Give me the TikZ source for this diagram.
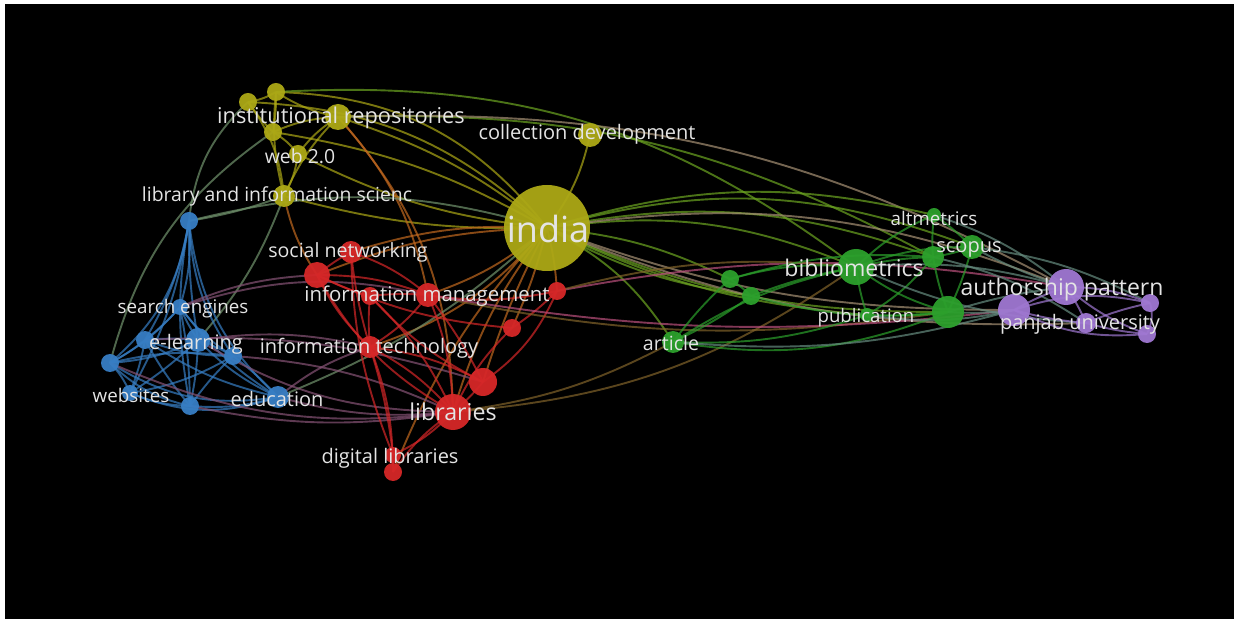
\documentclass[tikz,border=0pt]{standalone}
\usepackage{fontspec}
\setmainfont{Open Sans}
\usetikzlibrary{backgrounds}

\definecolor{ycol}{RGB}{172,168,22}
\definecolor{rcol}{RGB}{214,39,40}
\definecolor{bcol}{RGB}{55,126,196}
\definecolor{gcol}{RGB}{44,160,44}
\definecolor{pcol}{RGB}{160,120,210}
\definecolor{labcol}{RGB}{228,228,228}

\tikzset{
  kw/.style={circle, inner sep=0pt, minimum size=#1 pt, fill opacity=0.95},
  ykw/.style={kw=#1, fill=ycol},
  rkw/.style={kw=#1, fill=rcol},
  bkw/.style={kw=#1, fill=bcol},
  gkw/.style={kw=#1, fill=gcol},
  pkw/.style={kw=#1, fill=pcol},
  lbl/.style={text=labcol, inner sep=0pt, yshift=-0.8pt, font=\fontsize{#1}{#1}\selectfont},
  link/.style={line width=0.95pt, draw opacity=0.7},
}

\begin{document}
\begin{tikzpicture}[x=0.5pt, y=-0.5pt]
            \useasboundingbox (0,0) rectangle (1234,619);
            \begin{scope}[on background layer]
            \fill[white] (0,0) rectangle (1234,619);
            \fill[black] (5,4) rectangle (1234,619);
            \end{scope}

            % Marking yellow keywords
            \node [ykw=43] (india) at (547,228) {};%
            \node [ykw=12] (coll) at (590,135) {};%
            \node [ykw=13] (instrep) at (338,117) {};%
            \node [ykw=9] (y1) at (276,92) {};%
            \node [ykw=9] (y2) at (248,102) {};%
            \node [ykw=9] (y3) at (273,132) {};%
            \node [ykw=9] (web) at (298,154) {};%
            \node [ykw=11] (lisy) at (284,196) {};%

            % Marking blue keywords
            \node [bkw=9] (lisb) at (189,221) {};%
            \node [bkw=8] (search) at (180,307) {};%
            \node [bkw=9] (el1) at (145,340) {};%
            \node [bkw=12] (el2) at (198,340) {};%
            \node [bkw=9] (b3) at (233,356) {};%
            \node [bkw=9] (b4) at (110,363) {};%
            \node [bkw=8] (websites) at (130,393) {};%
            \node [bkw=9] (b5) at (190,406) {};%
            \node [bkw=11] (educ) at (278,397) {};%

            % Marking red keywords
            \node [rkw=13] (sn1) at (317,275) {};%
            \node [rkw=11] (sn2) at (351,252) {};%
            \node [rkw=9] (im2) at (370,296) {};%
            \node [rkw=12] (im) at (428,295) {};%
            \node [rkw=9] (r557) at (557,291) {};%
            \node [rkw=9] (r512) at (512,328) {};%
            \node [rkw=11] (it) at (370,347) {};%
            \node [rkw=14] (r482) at (483,382) {};%
            \node [rkw=18] (lib) at (453,412) {};%
            \node [rkw=8] (dl1) at (393,455) {};%
            \node [rkw=9] (dl2) at (393,472) {};%

            % Marking green keywords
            \node [gkw=11] (article) at (673,342) {};%
            \node [gkw=9] (g1) at (730,279) {};%
            \node [gkw=9] (g2) at (751,296) {};%
            \node [gkw=18] (biblio) at (856,267) {};%
            \node [gkw=7] (altm) at (934,215) {};%
            \node [gkw=11] (scop1) at (933,257) {};%
            \node [gkw=12] (scop2) at (972,247) {};%
            \node [gkw=7] (pub) at (867,315) {};%
            \node [gkw=16] (g3) at (948,312) {};%

            % Marking purple keywords
            \node [pkw=18] (auth) at (1066,287) {};%
            \node [pkw=16] (p1) at (1014,310) {};%
            \node [pkw=10] (panjab) at (1086,323) {};%
            \node [pkw=9] (p2) at (1150,303) {};%
            \node [pkw=9] (p3) at (1147,334) {};%

            \begin{scope}[on background layer]
            % Drawing yellow links
            \draw [link, ycol] (y1.center) to[bend left=10] (y2.center);%
            \draw [link, ycol] (y1.center) to[bend right=10] (instrep.center);%
            \draw [link, ycol] (y1.center) to[bend left=5] (y3.center);%
            \draw [link, ycol] (y2.center) to[bend right=5] (y3.center);%
            \draw [link, ycol] (y3.center) to[bend left=10] (instrep.center);%
            \draw [link, ycol] (y3.center) to[bend left=10] (web.center);%
            \draw [link, ycol] (web.center) to[bend left=10] (lisy.center);%
            \draw [link, ycol] (y2.center) to[bend left=15] (lisy.center);%
            \draw [link, ycol] (y1.center) to[bend right=10] (lisy.center);%
            \draw [link, ycol] (instrep.center) to[bend right=10] (lisy.center);%
            \draw [link, ycol] (web.center) to[bend left=10] (instrep.center);%
            \draw [link, ycol] (y1.center) to[bend left=25] (india.center);%
            \draw [link, ycol] (y2.center) to[bend left=20] (india.center);%
            \draw [link, ycol] (y3.center) to[bend left=10] (india.center);%
            \draw [link, ycol] (instrep.center) to[bend left=10] (india.center);%
            \draw [link, ycol] (web.center) to[bend right=10] (india.center);%
            \draw [link, ycol] (lisy.center) to[bend right=8] (india.center);%
            \draw [link, ycol] (coll.center) to[bend left=12] (india.center);%
            \draw [link, ycol!50!gcol] (y1.center) to[bend left=20] (biblio.center);%
            \draw [link, ycol!50!gcol] (instrep.center) to[bend left=15] (scop1.center);%
            \draw [link, ycol!50!pcol] (instrep.center) to[bend left=15] (auth.center);%
            \draw [link, ycol!50!rcol] (lisy.center) to[bend right=10] (sn1.center);%
            \draw [link, ycol!50!rcol] (instrep.center) to[bend left=15] (im.center);%
            \draw [link, ycol!50!rcol] (instrep.center) to[bend left=20] (lib.center);%
            \draw [link, ycol!50!bcol] (y2.center) to[bend right=20] (lisb.center);%
            \draw [link, ycol!50!bcol] (lisy.center) to[bend left=5] (lisb.center);%
            \draw [link, ycol!50!bcol] (lisy.center) to[bend left=10] (el2.center);%
            \draw [link, ycol!50!bcol] (y3.center) to[bend right=20] (b4.center);%

            % Drawing links of india
            \draw [link, ycol!50!rcol] (india.center) to[bend right=10] (lib.center);%
            \draw [link, ycol!50!rcol] (india.center) to[bend right=5] (r482.center);%
            \draw [link, ycol!50!rcol] (india.center) to[bend left=5] (r512.center);%
            \draw [link, ycol!50!rcol] (india.center) to[bend left=5] (r557.center);%
            \draw [link, ycol!50!rcol] (india.center) to[bend left=10] (im.center);%
            \draw [link, ycol!50!rcol] (india.center) to[bend right=10] (sn1.center);%
            \draw [link, ycol!50!rcol] (india.center) to[bend left=15] (it.center);%
            \draw [link, ycol!50!rcol] (india.center) to[bend right=10] (sn2.center);%
            \draw [link, ycol!50!rcol] (india.center) to[bend right=10] (dl2.center);%
            \draw [link, ycol!50!bcol] (india.center) to[bend right=15] (lisb.center);%
            \draw [link, ycol!50!bcol] (india.center) to[bend left=10] (educ.center);%
            \draw [link, ycol!50!gcol] (india.center) to[bend left=15] (biblio.center);%
            \draw [link, ycol!50!gcol] (india.center) to[bend left=15] (scop1.center);%
            \draw [link, ycol!50!gcol] (india.center) to[bend left=15] (altm.center);%
            \draw [link, ycol!50!gcol] (india.center) to[bend left=18] (scop2.center);%
            \draw [link, ycol!50!gcol] (india.center) to[bend right=12] (g3.center);%
            \draw [link, ycol!50!gcol] (india.center) to[bend right=10] (pub.center);%
            \draw [link, ycol!50!gcol] (india.center) to[bend left=15] (article.center);%
            \draw [link, ycol!50!gcol] (india.center) to[bend left=10] (g1.center);%
            \draw [link, ycol!50!gcol] (india.center) to[bend right=10] (g2.center);%
            \draw [link, ycol!50!pcol] (india.center) to[bend left=15] (auth.center);%
            \draw [link, ycol!50!pcol] (india.center) to[bend right=10] (p1.center);%
            \draw [link, ycol!50!pcol] (india.center) to[bend right=12] (panjab.center);%

            % Drawing blue links
            \draw [link, bcol] (lisb.center) to[bend left=10] (search.center);%
            \draw [link, bcol] (lisb.center) to[bend left=10] (el1.center);%
            \draw [link, bcol] (lisb.center) to[bend right=5] (el2.center);%
            \draw [link, bcol] (lisb.center) to[bend left=20] (b4.center);%
            \draw [link, bcol] (lisb.center) to[bend left=10] (websites.center);%
            \draw [link, bcol] (lisb.center) to[bend right=10] (b5.center);%
            \draw [link, bcol] (lisb.center) to[bend right=20] (educ.center);%
            \draw [link, bcol] (lisb.center) to[bend right=15] (b3.center);%
            \draw [link, bcol] (search.center) to[bend left=5] (el1.center);%
            \draw [link, bcol] (search.center) to[bend right=5] (el2.center);%
            \draw [link, bcol] (search.center) to[bend right=10] (b3.center);%
            \draw [link, bcol] (search.center) to[bend left=10] (b4.center);%
            \draw [link, bcol] (search.center) to[bend left=5] (b5.center);%
            \draw [link, bcol] (search.center) to[bend right=10] (educ.center);%
            \draw [link, bcol] (el1.center) to[bend left=5] (el2.center);%
            \draw [link, bcol] (el1.center) to[bend left=5] (b4.center);%
            \draw [link, bcol] (el1.center) to[bend left=5] (websites.center);%
            \draw [link, bcol] (el1.center) to[bend right=5] (b5.center);%
            \draw [link, bcol] (el1.center) to[bend right=10] (b3.center);%
            \draw [link, bcol] (el1.center) to[bend right=10] (educ.center);%
            \draw [link, bcol] (el2.center) to[bend left=10] (b4.center);%
            \draw [link, bcol] (el2.center) to[bend left=5] (b5.center);%
            \draw [link, bcol] (el2.center) to[bend right=10] (educ.center);%
            \draw [link, bcol] (el2.center) to[bend left=5] (b3.center);%
            \draw [link, bcol] (el2.center) to[bend left=5] (websites.center);%
            \draw [link, bcol] (b3.center) to[bend right=10] (b4.center);%
            \draw [link, bcol] (b3.center) to[bend left=10] (websites.center);%
            \draw [link, bcol] (b3.center) to[bend right=5] (b5.center);%
            \draw [link, bcol] (b3.center) to[bend left=5] (educ.center);%
            \draw [link, bcol] (b4.center) to[bend left=10] (websites.center);%
            \draw [link, bcol] (b4.center) to[bend right=15] (b5.center);%
            \draw [link, bcol] (b4.center) to[bend right=20] (educ.center);%
            \draw [link, bcol] (websites.center) to[bend right=10] (b5.center);%
            \draw [link, bcol] (websites.center) to[bend right=20] (educ.center);%
            \draw [link, bcol] (b5.center) to[bend right=10] (educ.center);%
            \draw [link, bcol!50!rcol] (el2.center) to[bend left=10] (it.center);%
            \draw [link, bcol!50!rcol] (el2.center) to[bend right=15] (lib.center);%
            \draw [link, bcol!50!rcol] (educ.center) to[bend right=10] (lib.center);%
            \draw [link, bcol!50!rcol] (b3.center) to[bend left=10] (lib.center);%
            \draw [link, bcol!50!rcol] (educ.center) to[bend left=10] (it.center);%
            \draw [link, bcol!50!rcol] (search.center) to[bend left=15] (im.center);%
            \draw [link, bcol!50!rcol] (b4.center) to[bend right=15] (lib.center);%
            \draw [link, bcol!50!rcol] (search.center) to[bend left=10] (sn1.center);%
            \draw [link, bcol!50!rcol] (el1.center) to[bend left=10] (r482.center);%
            \draw [link, bcol!50!rcol] (b5.center) to[bend right=10] (lib.center);%

            % Drawing red links
            \draw [link, rcol] (sn1.center) to[bend left=5] (sn2.center);%
            \draw [link, rcol] (sn1.center) to[bend right=5] (im2.center);%
            \draw [link, rcol] (sn1.center) to[bend left=10] (im.center);%
            \draw [link, rcol] (sn1.center) to[bend right=10] (it.center);%
            \draw [link, rcol] (sn1.center) to[bend right=15] (lib.center);%
            \draw [link, rcol] (sn2.center) to[bend left=10] (im.center);%
            \draw [link, rcol] (sn2.center) to[bend right=5] (it.center);%
            \draw [link, rcol] (sn2.center) to[bend right=10] (dl1.center);%
            \draw [link, rcol] (im2.center) to[bend right=5] (it.center);%
            \draw [link, rcol] (im2.center) to[bend left=5] (im.center);%
            \draw [link, rcol] (im2.center) to[bend left=10] (lib.center);%
            \draw [link, rcol] (im.center) to[bend left=10] (it.center);%
            \draw [link, rcol] (im.center) to[bend left=10] (lib.center);%
            \draw [link, rcol] (im.center) to[bend left=5] (r482.center);%
            \draw [link, rcol] (it.center) to[bend left=10] (lib.center);%
            \draw [link, rcol] (it.center) to[bend left=10] (r482.center);%
            \draw [link, rcol] (it.center) to[bend left=5] (dl1.center);%
            \draw [link, rcol] (lib.center) to[bend right=5] (r482.center);%
            \draw [link, rcol] (lib.center) to[bend left=10] (r512.center);%
            \draw [link, rcol] (r512.center) to[bend right=5] (r557.center);%
            \draw [link, rcol] (r482.center) to[bend right=15] (r557.center);%
            \draw [link, rcol] (r557.center) to[bend left=10] (im.center);%
            \draw [link, rcol] (dl1.center) to[bend right=10] (lib.center);%
            \draw [link, rcol] (dl2.center) to[bend left=10] (lib.center);%
            \draw [link, rcol] (dl2.center) to[bend right=10] (it.center);%
            \draw [link, rcol] (sn1.center) to[bend right=10] (r512.center);%
            \draw [link, rcol] (im2.center) to[bend right=10] (r482.center);%
            \draw [link, rcol!50!pcol] (r557.center) to[bend left=10] (auth.center);%
            \draw [link, rcol!50!gcol] (r557.center) to[bend left=10] (biblio.center);%
            \draw [link, rcol!50!gcol] (lib.center) to[bend right=10] (article.center);%
            \draw [link, rcol!50!gcol] (lib.center) to[bend right=15] (biblio.center);%
            \draw [link, rcol!50!gcol] (im.center) to[bend right=10] (g3.center);%
            \draw [link, rcol!50!pcol] (im.center) to[bend right=8] (p1.center);%

            % Drawing green links
            \draw [link, gcol] (article.center) to[bend left=5] (g1.center);%
            \draw [link, gcol] (article.center) to[bend right=5] (g2.center);%
            \draw [link, gcol] (article.center) to[bend left=10] (biblio.center);%
            \draw [link, gcol] (article.center) to[bend right=15] (g3.center);%
            \draw [link, gcol] (article.center) to[bend right=10] (pub.center);%
            \draw [link, gcol] (g1.center) to[bend left=5] (g2.center);%
            \draw [link, gcol] (g1.center) to[bend left=10] (biblio.center);%
            \draw [link, gcol] (g2.center) to[bend left=5] (biblio.center);%
            \draw [link, gcol] (g2.center) to[bend right=10] (g3.center);%
            \draw [link, gcol] (g1.center) to[bend left=10] (scop1.center);%
            \draw [link, gcol] (biblio.center) to[bend left=5] (scop1.center);%
            \draw [link, gcol] (biblio.center) to[bend left=10] (altm.center);%
            \draw [link, gcol] (biblio.center) to[bend right=5] (pub.center);%
            \draw [link, gcol] (biblio.center) to[bend right=10] (g3.center);%
            \draw [link, gcol] (biblio.center) to[bend left=10] (scop2.center);%
            \draw [link, gcol] (altm.center) to[bend right=5] (scop1.center);%
            \draw [link, gcol] (altm.center) to[bend left=5] (scop2.center);%
            \draw [link, gcol] (scop1.center) to[bend right=5] (scop2.center);%
            \draw [link, gcol] (scop1.center) to[bend right=5] (g3.center);%
            \draw [link, gcol] (scop1.center) to[bend left=10] (pub.center);%
            \draw [link, gcol] (pub.center) to[bend right=5] (g3.center);%
            \draw [link, gcol] (g3.center) to[bend right=5] (scop2.center);%
            \draw [link, gcol!50!pcol] (g3.center) to[bend right=5] (p1.center);%
            \draw [link, gcol!50!pcol] (g3.center) to[bend left=5] (auth.center);%
            \draw [link, gcol!50!pcol] (biblio.center) to[bend left=10] (auth.center);%
            \draw [link, gcol!50!pcol] (scop2.center) to[bend right=5] (auth.center);%
            \draw [link, gcol!50!pcol] (scop1.center) to[bend left=10] (panjab.center);%
            \draw [link, gcol!50!pcol] (pub.center) to[bend right=10] (p1.center);%
            \draw [link, gcol!50!pcol] (altm.center) to[bend left=10] (auth.center);%
            \draw [link, gcol!50!pcol] (biblio.center) to[bend right=10] (panjab.center);%
            \draw [link, gcol!50!pcol] (scop2.center) to[bend left=10] (p2.center);%
            \draw [link, gcol!50!pcol] (article.center) to[bend right=10] (p1.center);%

            % Drawing purple links
            \draw [link, pcol] (auth.center) to[bend right=5] (p1.center);%
            \draw [link, pcol] (auth.center) to[bend left=5] (panjab.center);%
            \draw [link, pcol] (auth.center) to[bend left=10] (p2.center);%
            \draw [link, pcol] (auth.center) to[bend right=10] (p3.center);%
            \draw [link, pcol] (panjab.center) to[bend left=5] (p2.center);%
            \draw [link, pcol] (panjab.center) to[bend right=5] (p3.center);%
            \draw [link, pcol] (p1.center) to[bend right=5] (panjab.center);%
            \draw [link, pcol] (p1.center) to[bend left=15] (p2.center);%
            \draw [link, pcol] (p1.center) to[bend right=15] (p3.center);%
            \draw [link, pcol] (p2.center) to[bend left=20] (p3.center);%
            \end{scope}

            % Writing labels
            \node [lbl=18] (tindia) at (548,227) {india};%
            \node [lbl=10] (tcoll) at (587,133) {collection development};%
            \node [lbl=10.9] (tinstrep) at (341,116) {institutional repositories};%
            \node [lbl=9.7] (tweb) at (300,155) {web 2.0};%
            \node [lbl=9.7] (tlis) at (277,195) {library and information scienc};%
            \node [lbl=9.8] (tsn) at (348,251) {social networking};%
            \node [lbl=10.2] (tim) at (427,295) {information management};%
            \node [lbl=9.4] (tsearch) at (183,307) {search engines};%
            \node [lbl=10] (tel) at (196,343) {e-learning};%
            \node [lbl=10] (tit) at (369,347) {information technology};%
            \node [lbl=9.4] (twebsites) at (131,394) {websites};%
            \node [lbl=10] (teduc) at (277,397) {education};%
            \node [lbl=11.6] (tlib) at (453,410) {libraries};%
            \node [lbl=10] (tdl) at (390,457) {digital libraries};%
            \node [lbl=9.8] (tarticle) at (671,342) {article};%
            \node [lbl=11.5] (tbiblio) at (854,266) {bibliometrics};%
            \node [lbl=9.4] (taltm) at (934,217) {altmetrics};%
            \node [lbl=10] (tscop) at (969,248) {scopus};%
            \node [lbl=9.3] (tpub) at (866,316) {publication};%
            \node [lbl=11.5] (tauth) at (1062,288) {authorship pattern};%
            \node [lbl=10] (tpanjab) at (1080,323) {panjab university};%
\end{tikzpicture}
\end{document}
